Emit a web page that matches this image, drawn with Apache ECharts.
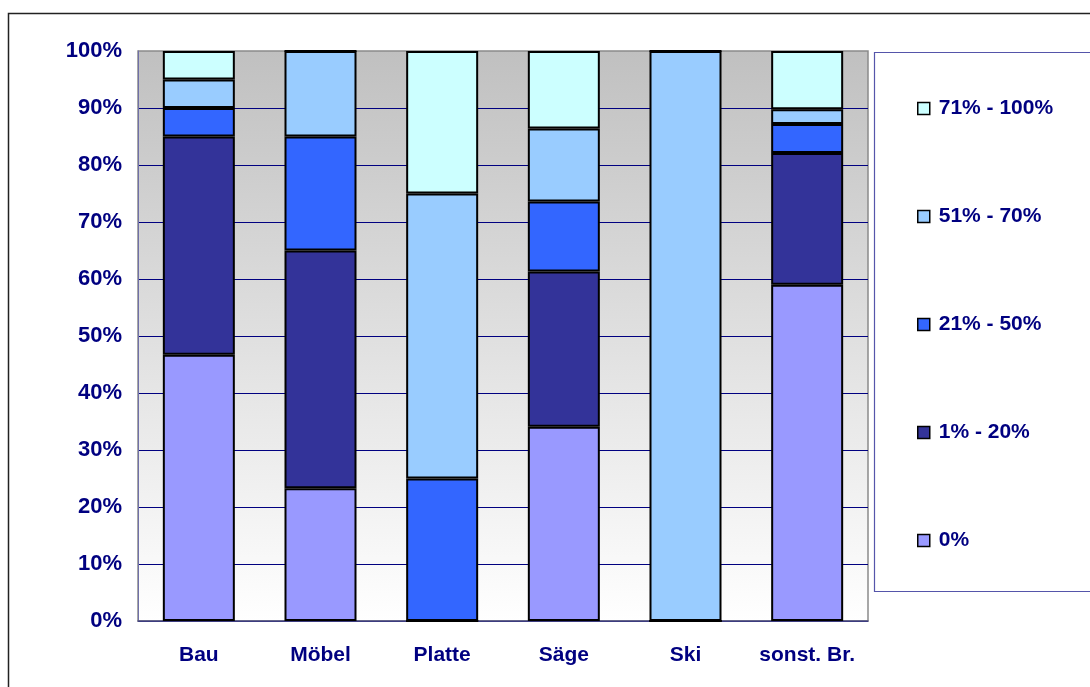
<!DOCTYPE html>
<html>
<head>
<meta charset="utf-8">
<script src="https://cdn.jsdelivr.net/npm/echarts@6/dist/echarts.min.js"></script>
<style>
  html, body { margin: 0; padding: 0; background: #fff; }
  #chart { width: 1090px; height: 687px; }
</style>
</head>
<body>
<div id="chart"></div>
<script>
// Branch categories along the x axis
const categories = ['Bau', 'Möbel', 'Platte', 'Säge', 'Ski', 'sonst. Br.'];

// Share (in %) of each band per branch, stacked bottom to top
const band0 = [46.7, 23.3, 0, 34.1, 0, 59.0];     // 0%
const band1 = [38.3, 41.7, 0, 27.2, 0, 23.1];     // 1% - 20%
const band2 = [5.0, 20.0, 25.0, 12.3, 0, 5.1];    // 21% - 50%
const band3 = [5.0, 15.0, 50.0, 12.8, 100, 2.6];  // 51% - 70%
const band4 = [5.0, 0, 25.0, 13.6, 0, 10.2];      // 71% - 100%

const bandNames = ['0%', '1% - 20%', '21% - 50%', '51% - 70%', '71% - 100%'];
const bandValues = [band0, band1, band2, band3, band4];
const bandColors = ['#9999ff', '#333399', '#3366ff', '#99ccff', '#ccffff'];

const yTicks = [0, 10, 20, 30, 40, 50, 60, 70, 80, 90, 100];

const textColor = '#000080';
const fontFamily = '"Liberation Sans", Arial, sans-serif';

const chart = echarts.init(document.getElementById('chart'), null, { renderer: 'canvas' });

const series = bandNames.map((name, i) => ({
  name: name,
  type: 'bar',
  stack: 'total',
  barWidth: 72,
  data: bandValues[i],
  itemStyle: {
    color: bandColors[i],
    borderColor: '#000',
    borderWidth: 2
  },
  emphasis: { disabled: true }
}));

chart.setOption({
  animation: false,
  backgroundColor: '#fff',
  graphic: [
    {
      // outer chart frame
      type: 'rect',
      z: -10,
      shape: { x: 8.5, y: 13.5, width: 1200, height: 800 },
      style: { fill: 'none', stroke: '#222', lineWidth: 1.5 },
      silent: true
    },
    {
      // legend frame
      type: 'rect',
      z: -5,
      shape: { x: 874.5, y: 52.5, width: 300, height: 539 },
      style: { fill: '#fff', stroke: '#5555aa', lineWidth: 1.2 },
      silent: true
    }
  ],
  grid: {
    left: 138,
    top: 51,
    right: 222,
    bottom: 66,
    show: true,
    borderColor: '#8a8a8a',
    borderWidth: 1.5,
    backgroundColor: new echarts.graphic.LinearGradient(0, 0, 0, 1, [
      { offset: 0, color: '#c0c0c0' },
      { offset: 1, color: '#ffffff' }
    ])
  },
  legend: {
    orient: 'vertical',
    left: 917,
    top: 98,
    padding: 0,
    data: bandNames.slice().reverse(),
    icon: 'rect',
    itemWidth: 12,
    itemHeight: 12,
    itemGap: 87,
    selectedMode: false,
    itemStyle: { borderColor: '#000', borderWidth: 1.5 },
    textStyle: {
      color: textColor,
      fontFamily: fontFamily,
      fontWeight: 'bold',
      fontSize: 21,
      lineHeight: 20,
      padding: [0, 0, 0, 4]
    }
  },
  xAxis: {
    type: 'category',
    data: categories,
    axisTick: { show: false },
    axisLine: { lineStyle: { color: '#505080', width: 1.5 } },
    axisLabel: {
      interval: 0,
      color: textColor,
      fontFamily: fontFamily,
      fontWeight: 'bold',
      fontSize: 21,
      margin: 24
    }
  },
  yAxis: {
    type: 'value',
    min: yTicks[0],
    max: yTicks[yTicks.length - 1],
    interval: 10,
    axisTick: { show: false },
    axisLine: { show: true, lineStyle: { color: '#7070a8', width: 1 } },
    splitLine: {
      show: true,
      showMaxLine: false,
      lineStyle: { color: '#000080', width: 1 }
    },
    axisLabel: {
      color: textColor,
      fontFamily: fontFamily,
      fontWeight: 'bold',
      fontSize: 22,
      margin: 16,
      formatter: '{value}%'
    }
  },
  series: series
});
</script>
</body>
</html>
